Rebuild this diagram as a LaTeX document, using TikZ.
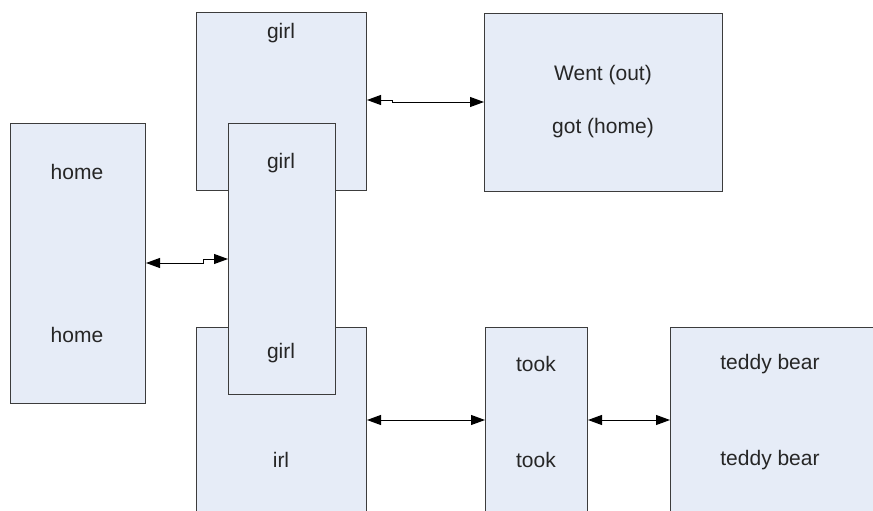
\documentclass[tikz,border=0pt]{standalone}
\usepackage{fontspec}
\setmainfont{Liberation Sans}
\usetikzlibrary{arrows.meta}
\definecolor{boxfill}{RGB}{230,236,247}
\definecolor{boxline}{RGB}{60,60,60}
\begin{document}
\begin{tikzpicture}[x=1pt,y=-1pt,
  box/.style={draw=boxline, fill=boxfill, line width=1pt, rectangle, inner sep=0pt, anchor=north west},
  lbl/.style={font=\fontsize{21}{25}\selectfont, inner sep=0pt, text=black!85},
  link/.style={line width=1pt, {Triangle[length=14pt,width=10pt]}-{Triangle[length=14pt,width=10pt]}}]
\useasboundingbox (0,0) rectangle (873,511);
\clip (0,0) rectangle (873,511);
% boxes
\node[box, minimum width=170pt, minimum height=178pt] (girlA) at (196,12) {};
\node[box, minimum width=170pt, minimum height=200pt] (irl) at (196,327) {};
\node[box, minimum width=107pt, minimum height=271pt] (girlB) at (228,123) {};
\node[box, minimum width=135pt, minimum height=280pt] (home) at (10,123) {};
\node[box, minimum width=238pt, minimum height=178pt] (went) at (484,13) {};
\node[box, minimum width=102pt, minimum height=200pt] (took) at (485,327) {};
\node[box, minimum width=220pt, minimum height=200pt] (teddy) at (670,327) {};
% labels
\node[lbl] (tGirlA) at (281,33) {girl};
\node[lbl] (tWent) at (603,75) {Went (out)};
\node[lbl] (tGot) at (603,128) {got (home)};
\node[lbl] (tHome1) at (77,172) {home};
\node[lbl] (tHome2) at (77,335) {home};
\node[lbl] (tGirlB1) at (281,163) {girl};
\node[lbl] (tGirlB2) at (281,353) {girl};
\node[lbl] (tIrl) at (281,460) {irl};
\node[lbl] (tTook1) at (536,364) {took};
\node[lbl] (tTook2) at (536,460) {took};
\node[lbl] (tTeddy1) at (770,364) {teddy bear};
\node[lbl] (tTeddy2) at (770,460) {teddy bear};
% connectors
\coordinate (jA) at (203,263);
\coordinate (jB) at (203,259);
\draw[link] (home.east |- jA) -- (jA) -- (jB) -- (girlB.west |- jB);
\coordinate (kA) at (392,100);
\coordinate (kB) at (392,102);
\draw[link] (girlA.east |- kA) -- (kA) -- (kB) -- (went.west |- kB);
\coordinate (m) at (0,420);
\draw[link] (irl.east |- m) -- (took.west |- m);
\draw[link] (took.east |- m) -- (teddy.west |- m);
\end{tikzpicture}
\end{document}
